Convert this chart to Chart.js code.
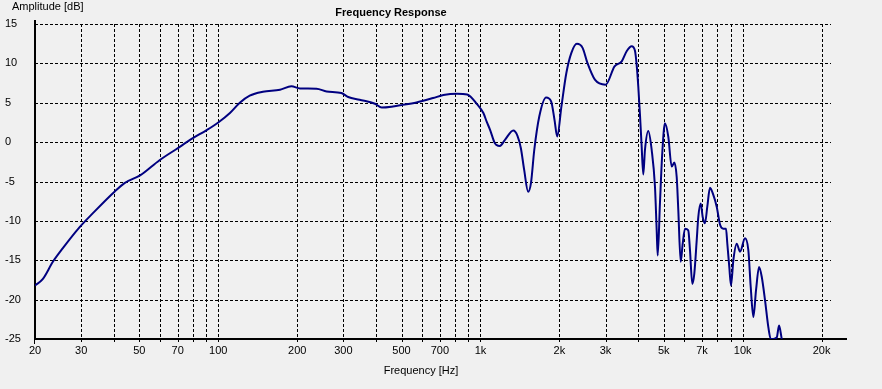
<!DOCTYPE html>
<html><head><meta charset="utf-8">
<script src="https://cdn.jsdelivr.net/npm/chart.js@4"></script>
<style>html,body{margin:0;padding:0;background:#f0f0f0;overflow:hidden}#wrap{width:882px;height:389px;position:relative}canvas{display:block}</style>
</head><body><div id="wrap"><canvas id="c" width="882" height="389"></canvas></div>
<script>
const freqHz = [20,21.4,23.4,25.5,29.6,33.2,40.2,43.9,50.5,59.7,69.1,80,90,100,110.8,120.8,131.8,148,172,190,205,237,259,295,313,346,396,420,464,500,570,660,722,814,890,974,1026,1056,1088,1134,1150,1186,1240,1334,1384,1426,1468,1520,1558,1604,1676,1780,1860,1916,1962,2036,2126,2222,2332,2452,2558,2732,3000,3246,3458,3610,3772,3884,3942,3998,4058,4118,4178,4240,4366,4498,4630,4700,4742,4836,4936,5054,5204,5362,5486,5602,5682,5804,5906,6026,6202,6296,6426,6540,6680,6774,6918,7040,7184,7330,7506,7728,7962,8200,8438,8640,8740,8892,9028,9214,9492,9772,10210,10510,10734,10986,11246,11550,11824,12172,12530,12800,13092,13490,13766,14096];
const amplitudeDb = [-18.2,-17.4,-15.2,-13.5,-10.8,-9.05,-6.3,-5.2,-4.2,-2.3,-0.9,0.5,1.5,2.5,3.7,5.0,5.9,6.4,6.66,7.08,6.82,6.78,6.44,6.24,5.73,5.38,4.87,4.4,4.53,4.7,5.04,5.6,5.98,6.15,6.06,4.75,3.69,2.6,1.56,-0.13,-0.35,-0.48,0.29,1.47,0.8,-0.77,-3.53,-6.3,-5.2,-1.0,3.25,5.67,5.17,2.83,0.71,4.53,8.78,11.33,12.48,11.97,10.06,7.93,7.29,9.62,10.26,11.53,12.17,11.6,9.8,7.1,3.5,-0.5,-4.1,-1.0,1.4,-1.0,-5.66,-11.2,-14.4,-7.8,-1.4,2.4,0.7,-3.1,-2.6,-4.4,-8.6,-15.2,-12.9,-11.0,-11.2,-13.7,-18.0,-16.7,-12.45,-9.5,-7.8,-9.5,-10.3,-8.2,-5.8,-6.7,-8.2,-10.5,-11.0,-11.0,-12.9,-15.85,-18.2,-15.0,-12.9,-13.9,-12.2,-13.7,-18.4,-22.2,-18.8,-15.85,-17.1,-20.1,-23.5,-25,-25,-24.8,-23.3,-25];
const xTickValues = [20,30,50,70,100,200,300,500,700,1000,2000,3000,5000,7000,10000,20000];
const xTickLabels = ['20','30','50','70','100','200','300','500','700','1k','2k','3k','5k','7k','10k','20k'];
const xGridValues = [30,40,50,60,70,80,90,100,200,300,400,500,600,700,800,900,1000,2000,3000,4000,5000,6000,7000,8000,9000,10000,20000];
const yTickValues = [15,10,5,0,-5,-10,-15,-20,-25];
const yTickLabels = ['15','10','5','0','-5','-10','-15','-20','-25'];
const titleText = 'Frequency Response';
const xTitle = 'Frequency [Hz]';
const yTitle = 'Amplitude [dB]';

const FONT = '"Liberation Sans", Arial, sans-serif';

const gridPlugin = {
  id: 'winGrid',
  beforeDatasetsDraw(chart) {
    const {ctx, chartArea: a, scales: {x, y}} = chart;
    ctx.save();
    ctx.strokeStyle = '#000';
    ctx.lineWidth = 1;
    ctx.setLineDash([3, 2]);
    xGridValues.forEach(v => {
      const px = Math.round(x.getPixelForValue(v)) + 0.5;
      ctx.beginPath(); ctx.moveTo(px, a.top); ctx.lineTo(px, a.bottom + 5); ctx.stroke();
    });
    yTickValues.forEach(v => {
      if (v === -25) return;
      const py = Math.round(y.getPixelForValue(v)) + 0.5;
      ctx.beginPath(); ctx.moveTo(a.left, py); ctx.lineTo(a.right - 16, py); ctx.stroke();
    });
    ctx.setLineDash([]);
    const p20 = Math.round(x.getPixelForValue(20)) - 0.5;
    ctx.beginPath(); ctx.moveTo(p20, a.bottom); ctx.lineTo(p20, a.bottom + 5); ctx.stroke();
    ctx.fillStyle = '#000';
    ctx.fillRect(a.left - 1, a.top - 4, 2, a.bottom - a.top + 4);
    ctx.fillRect(a.left - 1, a.bottom - 1, a.right - a.left + 1, 2);
    ctx.restore();
  },
  afterDraw(chart) {
    const {ctx} = chart;
    ctx.save();
    ctx.fillStyle = '#000';
    ctx.textBaseline = 'alphabetic';
    ctx.font = 'bold 11px ' + FONT;
    ctx.textAlign = 'center';
    ctx.fillText(titleText, 391, 16);
    ctx.font = '11px ' + FONT;
    ctx.fillText(xTitle, 421, 374);
    ctx.textAlign = 'left';
    ctx.fillText(yTitle, 12, 10);
    ctx.restore();
  }
};

new Chart(document.getElementById('c'), {
  type: 'line',
  data: {
    datasets: [{
      data: freqHz.map((f, i) => ({x: f, y: amplitudeDb[i]})),
      borderColor: '#000080',
      borderWidth: 2,
      pointRadius: 0,
      cubicInterpolationMode: 'monotone',
      fill: false
    }]
  },
  options: {
    responsive: false,
    animation: false,
    devicePixelRatio: 1,
    layout: {padding: {top: 24, right: 35, left: 5, bottom: 0}},
    plugins: {legend: {display: false}, tooltip: {enabled: false}, title: {display: false}},
    scales: {
      x: {
        type: 'logarithmic',
        min: 20, max: 25000,
        grid: {display: false},
        border: {display: false},
        afterBuildTicks: s => { s.ticks = xTickValues.map(v => ({value: v})); },
        afterFit: s => { s.height = 50; },
        ticks: {
          autoSkip: false, maxRotation: 0, minRotation: 0, padding: -3,
          color: '#000', font: {family: FONT, size: 11},
          callback: (v) => { const i = xTickValues.indexOf(v); return i >= 0 ? xTickLabels[i] : ''; }
        }
      },
      y: {
        type: 'linear',
        min: -25, max: 15,
        grid: {display: false},
        border: {display: false},
        afterBuildTicks: s => { s.ticks = yTickValues.map(v => ({value: v})); },
        afterFit: s => { s.width = 30; },
        ticks: {
          crossAlign: 'far', padding: 0,
          color: '#000', font: {family: FONT, size: 11},
          callback: (v) => { const i = yTickValues.indexOf(v); return i >= 0 ? yTickLabels[i] : ''; }
        }
      }
    }
  },
  plugins: [gridPlugin]
});
</script></body></html>
